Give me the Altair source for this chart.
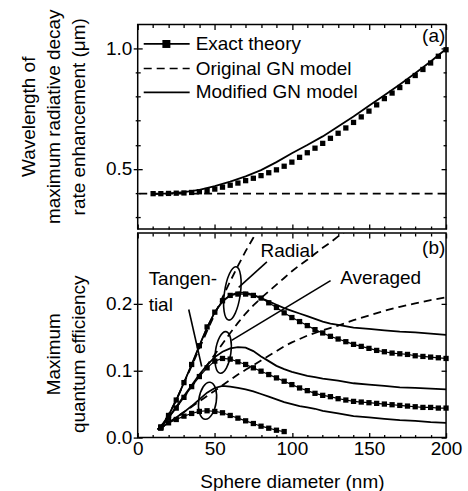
import altair as alt
import pandas as pd

FONT = "Liberation Sans"
FS = 19

# ---------------- panel (a) data ----------------
exact_a_d = list(range(10, 201, 5))
exact_a_v = [0.397, 0.397, 0.398, 0.399, 0.400, 0.402, 0.405, 0.410, 0.416, 0.424,
             0.432, 0.441, 0.451, 0.461, 0.472, 0.484, 0.496, 0.511, 0.528, 0.548,
             0.567, 0.586, 0.606, 0.627, 0.648, 0.670, 0.693, 0.716, 0.740, 0.766,
             0.792, 0.815, 0.838, 0.863, 0.888, 0.913, 0.940, 0.968, 0.995]
orig_a_d = [1, 200]
orig_a_v = [0.397, 0.397]
mod_a_d = [10, 20, 30, 40, 50, 60, 70, 80, 90, 100, 110, 120, 130, 140, 150, 160, 170, 180, 190, 200]
mod_a_v = [0.395, 0.398, 0.403, 0.413, 0.428, 0.447, 0.469, 0.495, 0.528, 0.565,
           0.599, 0.635, 0.676, 0.718, 0.762, 0.806, 0.851, 0.897, 0.946, 0.998]

# ---------------- panel (b) data ----------------
ex_rad_d = list(range(15, 201, 5))
ex_rad_q = [0.016, 0.033, 0.056, 0.082, 0.109, 0.137, 0.165, 0.187, 0.204, 0.212,
            0.214, 0.214, 0.212, 0.208, 0.201, 0.194, 0.186, 0.179, 0.173, 0.167,
            0.161, 0.156, 0.151, 0.147, 0.143, 0.139, 0.136, 0.133, 0.130, 0.128,
            0.126, 0.125, 0.124, 0.122, 0.121, 0.120, 0.119, 0.118]
ex_avg_d = list(range(15, 201, 5))
ex_avg_q = [0.015, 0.029, 0.044, 0.060, 0.076, 0.091, 0.104, 0.114, 0.118, 0.117,
            0.113, 0.109, 0.104, 0.099, 0.094, 0.089, 0.084, 0.079, 0.074, 0.070,
            0.066, 0.063, 0.061, 0.058, 0.056, 0.054, 0.053, 0.052, 0.051, 0.050,
            0.049, 0.048, 0.047, 0.046, 0.045, 0.045, 0.044, 0.044]
ex_tan_d = list(range(15, 96, 5))
ex_tan_q = [0.014, 0.022, 0.027, 0.032, 0.036, 0.039, 0.040, 0.039, 0.037, 0.033,
            0.029, 0.025, 0.021, 0.017, 0.014, 0.011, 0.009]

mod_rad_d = [13, 15, 20, 25, 30, 35, 40, 45, 50, 55, 60, 65, 70, 75, 80, 85, 90, 95, 100,
             105, 110, 115, 120, 125, 130, 140, 150, 160, 170, 180, 190, 200]
mod_rad_q = [0.012, 0.016, 0.033, 0.056, 0.082, 0.109, 0.137, 0.164, 0.187, 0.203, 0.212,
             0.216, 0.216, 0.213, 0.208, 0.203, 0.198, 0.193, 0.189, 0.185, 0.181, 0.177,
             0.173, 0.170, 0.168, 0.164, 0.162, 0.160, 0.158, 0.157, 0.155, 0.153]
mod_avg_d = [13, 15, 20, 25, 30, 35, 40, 45, 50, 55, 60, 65, 70, 75, 80, 85, 90, 95, 100,
             105, 110, 115, 120, 130, 140, 150, 160, 170, 180, 190, 200]
mod_avg_q = [0.012, 0.015, 0.030, 0.046, 0.062, 0.078, 0.094, 0.108, 0.120, 0.128, 0.133,
             0.135, 0.134, 0.129, 0.121, 0.114, 0.107, 0.102, 0.098, 0.095, 0.092, 0.090,
             0.088, 0.085, 0.081, 0.079, 0.077, 0.075, 0.074, 0.073, 0.072]
mod_tan_d = [13, 15, 20, 25, 30, 35, 40, 45, 50, 55, 60, 65, 70, 75, 80, 85, 90, 95, 100,
             105, 110, 115, 120, 130, 140, 150, 160, 170, 180, 190, 200]
mod_tan_q = [0.012, 0.015, 0.022, 0.030, 0.038, 0.047, 0.057, 0.067, 0.074, 0.077, 0.076,
             0.074, 0.072, 0.069, 0.065, 0.061, 0.057, 0.053, 0.050, 0.047, 0.045, 0.043,
             0.040, 0.036, 0.032, 0.030, 0.028, 0.026, 0.025, 0.023, 0.022]

gn_rad_d = [13, 15, 20, 25, 30, 35, 40, 45, 50, 55, 60, 65, 70, 75, 80]
gn_rad_q = [0.012, 0.016, 0.034, 0.056, 0.081, 0.107, 0.133, 0.159, 0.184, 0.209, 0.233,
            0.256, 0.278, 0.298, 0.318]
gn_avg_d = [13, 15, 20, 25, 30, 35, 40, 45, 50, 55, 60, 65, 70, 75, 80, 85, 90, 95, 100,
            105, 110, 115, 120, 125, 130, 135]
gn_avg_q = [0.012, 0.015, 0.030, 0.045, 0.060, 0.076, 0.092, 0.108, 0.124, 0.140, 0.156,
            0.171, 0.185, 0.197, 0.208, 0.218, 0.228, 0.238, 0.248, 0.257, 0.265, 0.274,
            0.283, 0.291, 0.300, 0.308]
gn_tan_d = [13, 15, 20, 25, 30, 35, 40, 45, 50, 55, 60, 65, 70, 75, 80, 85, 90, 95, 100,
            110, 120, 130, 140, 150, 160, 170, 180, 190, 200]
gn_tan_q = [0.012, 0.014, 0.022, 0.030, 0.038, 0.046, 0.054, 0.062, 0.070, 0.078, 0.086,
            0.094, 0.101, 0.108, 0.115, 0.122, 0.129, 0.136, 0.142, 0.152, 0.160, 0.167,
            0.175, 0.182, 0.189, 0.195, 0.200, 0.205, 0.209]

# annotations (data coordinates)
leg_labels = ["Exact theory", "Original GN model", "Modified GN model"]
leg_style = ["exact", "orig", "mod"]
ann_text = ["Radial", "Averaged", "Tangen-", "tial"]
ann_d = [79.7, 131.4, 7.1, 7.1]
ann_q = [0.270, 0.229, 0.227, 0.189]
ptr_d1 = [33.1, 83.8, 125.1]
ptr_q1 = [0.191, 0.262, 0.234]
ptr_d2 = [41.5, 65.5, 60.9]
ptr_q2 = [0.106, 0.224, 0.145]
ell_d = [61.4, 55.4, 45.3]
ell_q = [0.215, 0.127, 0.055]

# ---------------- layout constants ----------------
LEG_X0, LEG_X1, LEG_XM, LEG_XT = 3.9, 33.7, 18.6, 37.6
LEG_Y = [1.019, 0.917, 0.818]
ELL_RX = [8.0, 7.8, 8.8]
ELL_RY = [27.0, 21.0, 18.7]

X_MAJ = [0, 50, 100, 150, 200]
X_MIN = [v for v in range(10, 200, 10) if v % 50 != 0]
YA_MAJ = [0.5, 1.0]
YA_MIN = [0.3, 0.4, 0.6, 0.7, 0.8, 0.9]
YB_MAJ = [0.0, 0.1, 0.2]

XS = alt.Scale(domain=[0, 200], nice=False, zero=False)
YAS = alt.Scale(domain=[0.25, 1.1], nice=False, zero=False)
YBS = alt.Scale(domain=[0, 0.305], nice=False, zero=False)

W, H = 309, 205


def tick_axis(orient, values, size, inward):
    kw = dict(orient=orient, values=values, tickSize=size, labels=False,
              title=None, domain=False, grid=False)
    if inward:
        kw["offset"] = -size
    return alt.Axis(**kw)


# ---------------- panel (a) ----------------
df_ex_a = pd.DataFrame({"d": exact_a_d, "v": exact_a_v})
df_or_a = pd.DataFrame({"d": orig_a_d, "v": orig_a_v})
df_mo_a = pd.DataFrame({"d": mod_a_d, "v": mod_a_v})
df_leg = pd.DataFrame({"label": leg_labels, "style": leg_style, "y": LEG_Y,
                       "x0": LEG_X0, "x1": LEG_X1, "xm": LEG_XM, "xt": LEG_XT})

axis_a_left = alt.Axis(orient="left", values=YA_MAJ, format=".1f", tickSize=4.5,
                       labelPadding=1.5, labelFlush=False, domain=False, grid=False,
                       title=["Wavelength of", "maximum radiative decay", "rate enhancement (μm)"],
                       titleX=-103, titleY=92, titleBaseline="alphabetic",
                       titleLineHeight=25, titleAlign="center")

a_orig = alt.Chart(df_or_a).mark_line(color="black", strokeWidth=1.8, strokeDash=[8, 5]).encode(
    x=alt.X("d:Q", scale=XS, axis=tick_axis("bottom", X_MAJ, 5, True)),
    y=alt.Y("v:Q", scale=YAS, axis=axis_a_left))
a_mod = alt.Chart(df_mo_a).mark_line(color="black", strokeWidth=1.8).encode(
    x=alt.X("d:Q", scale=XS, axis=tick_axis("bottom", X_MIN, 3, True)),
    y=alt.Y("v:Q", scale=YAS, axis=tick_axis("left", YA_MAJ, 4.5, True)))
a_ex = alt.Chart(df_ex_a).mark_square(size=28, color="black", opacity=1).encode(
    x=alt.X("d:Q", scale=XS, axis=tick_axis("top", X_MAJ, 5, True)),
    y=alt.Y("v:Q", scale=YAS, axis=tick_axis("left", YA_MIN, 2.5, False)))
a_leg_rule = alt.Chart(df_leg).mark_rule(color="black", strokeWidth=1.7).encode(
    x=alt.X("x0:Q", scale=XS, axis=tick_axis("top", X_MIN, 3, True)),
    x2="x1:Q",
    y=alt.Y("y:Q", scale=YAS, axis=tick_axis("left", YA_MIN, 2.5, True)),
    strokeDash=alt.StrokeDash("style:N", scale=alt.Scale(domain=leg_style, range=[[1, 0], [8, 5], [1, 0]]), legend=None))
a_leg_sq = alt.Chart(df_leg).transform_filter(alt.datum.style == "exact").mark_square(
    size=64, color="black", opacity=1).encode(
    x=alt.X("xm:Q", scale=XS, axis=None),
    y=alt.Y("y:Q", scale=YAS, axis=tick_axis("right", YA_MAJ, 5, True)))
a_leg_txt = alt.Chart(df_leg).mark_text(align="left", baseline="middle", font=FONT, fontSize=FS,
                                        color="black").encode(
    x=alt.X("xt:Q", scale=XS, axis=None),
    y=alt.Y("y:Q", scale=YAS, axis=tick_axis("right", YA_MIN, 3, True)),
    text="label:N")
a_lab = alt.Chart(pd.DataFrame({"t": ["(a)"], "d": [199.5], "v": [1.027]})).mark_text(
    align="right", baseline="alphabetic", font=FONT, fontSize=FS, color="black").encode(
    x=alt.X("d:Q", scale=XS, axis=None), y=alt.Y("v:Q", scale=YAS, axis=None), text="t:N")

panel_a = alt.layer(a_orig, a_mod, a_ex, a_leg_rule, a_leg_sq, a_leg_txt, a_lab).resolve_axis(
    x="independent", y="independent").properties(width=W, height=H)

# ---------------- panel (b) ----------------
def long(ds, qs, name):
    return pd.DataFrame({"d": ds, "q": qs, "g": name})

df_gn = pd.concat([long(gn_rad_d, gn_rad_q, "rad"), long(gn_avg_d, gn_avg_q, "avg"),
                   long(gn_tan_d, gn_tan_q, "tan")])
df_mod = pd.concat([long(mod_rad_d, mod_rad_q, "rad"), long(mod_avg_d, mod_avg_q, "avg"),
                    long(mod_tan_d, mod_tan_q, "tan")])
df_ex = pd.concat([long(ex_rad_d, ex_rad_q, "rad"), long(ex_avg_d, ex_avg_q, "avg"),
                   long(ex_tan_d, ex_tan_q, "tan")])
df_ptr = pd.DataFrame({"d1": ptr_d1, "q1": ptr_q1, "d2": ptr_d2, "q2": ptr_q2})
df_ann = pd.DataFrame({"t": ann_text, "d": ann_d, "q": ann_q})

axis_b_left = alt.Axis(orient="left", values=YB_MAJ, format=".1f", tickSize=4.5,
                       labelPadding=1.5, labelFlush=False, domain=False, grid=False,
                       title=["Maximum", "quantum efficiency"],
                       titleX=-78, titleY=121, titleBaseline="alphabetic",
                       titleLineHeight=25, titleAlign="center")
axis_b_bottom = alt.Axis(orient="bottom", values=X_MAJ, ticks=False, labelPadding=2,
                         labelFlush=False, domain=False, grid=False,
                         title="Sphere diameter (nm)", titlePadding=14)

b_gn = alt.Chart(df_gn).mark_line(color="black", strokeWidth=1.8, strokeDash=[8, 5], clip=True).encode(
    x=alt.X("d:Q", scale=XS, axis=axis_b_bottom),
    y=alt.Y("q:Q", scale=YBS, axis=axis_b_left),
    detail="g:N")
b_mod = alt.Chart(df_mod).mark_line(color="black", strokeWidth=1.8, clip=True).encode(
    x=alt.X("d:Q", scale=XS, axis=tick_axis("bottom", X_MAJ, 5, True)),
    y=alt.Y("q:Q", scale=YBS, axis=tick_axis("left", YB_MAJ, 4.5, True)),
    detail="g:N")
b_exl = alt.Chart(df_ex).mark_line(color="black", strokeWidth=1.2).encode(
    x=alt.X("d:Q", scale=XS, axis=tick_axis("bottom", X_MIN, 3, True)),
    y=alt.Y("q:Q", scale=YBS, axis=tick_axis("right", YB_MAJ, 5, True)),
    detail="g:N")
b_exs = alt.Chart(df_ex).mark_square(size=28, color="black", opacity=1).encode(
    x=alt.X("d:Q", scale=XS, axis=tick_axis("top", X_MAJ, 5, True)),
    y=alt.Y("q:Q", scale=YBS, axis=None))
b_ptr = alt.Chart(df_ptr).mark_rule(color="black", strokeWidth=1.6).encode(
    x=alt.X("d1:Q", scale=XS, axis=tick_axis("top", X_MIN, 3, True)),
    y=alt.Y("q1:Q", scale=YBS, axis=None),
    x2="d2:Q", y2="q2:Q")
ells = []
for i in range(3):
    a = ELL_RX[i] / ELL_RY[i]
    path = f"M 0 -1 A {a:.3f} 1 0 1 1 0 1 A {a:.3f} 1 0 1 1 0 -1 Z"
    ells.append(alt.Chart(pd.DataFrame({"d": [ell_d[i]], "q": [ell_q[i]]})).mark_point(
        shape=path, size=(2 * ELL_RY[i]) ** 2, filled=False, color="black",
        strokeWidth=1.6, opacity=1, angle=8).encode(
        x=alt.X("d:Q", scale=XS, axis=None), y=alt.Y("q:Q", scale=YBS, axis=None)))
b_txt = alt.Chart(df_ann).mark_text(align="left", baseline="alphabetic", font=FONT,
                                    fontSize=FS, color="black").encode(
    x=alt.X("d:Q", scale=XS, axis=None), y=alt.Y("q:Q", scale=YBS, axis=None), text="t:N")
b_lab = alt.Chart(pd.DataFrame({"t": ["(b)"], "d": [199.5], "q": [0.2735]})).mark_text(
    align="right", baseline="alphabetic", font=FONT, fontSize=FS, color="black").encode(
    x=alt.X("d:Q", scale=XS, axis=None), y=alt.Y("q:Q", scale=YBS, axis=None), text="t:N")

panel_b = alt.layer(b_gn, b_mod, b_exl, b_exs, b_ptr, *ells, b_txt, b_lab).resolve_axis(
    x="independent", y="independent").properties(width=W, height=H)

chart = alt.vconcat(panel_a, panel_b, spacing=0).properties(
    padding={"left": 19, "top": 7, "right": 5, "bottom": 2}
).configure_view(stroke="black", strokeWidth=1.5).configure_axis(
    domain=False, grid=False, tickColor="black", tickWidth=1.3,
    labelFont=FONT, labelFontSize=FS, labelColor="black",
    titleFont=FONT, titleFontSize=FS, titleFontWeight="normal", titleColor="black")

chart.save("out.html", embed_options={"renderer": "svg", "actions": False})
